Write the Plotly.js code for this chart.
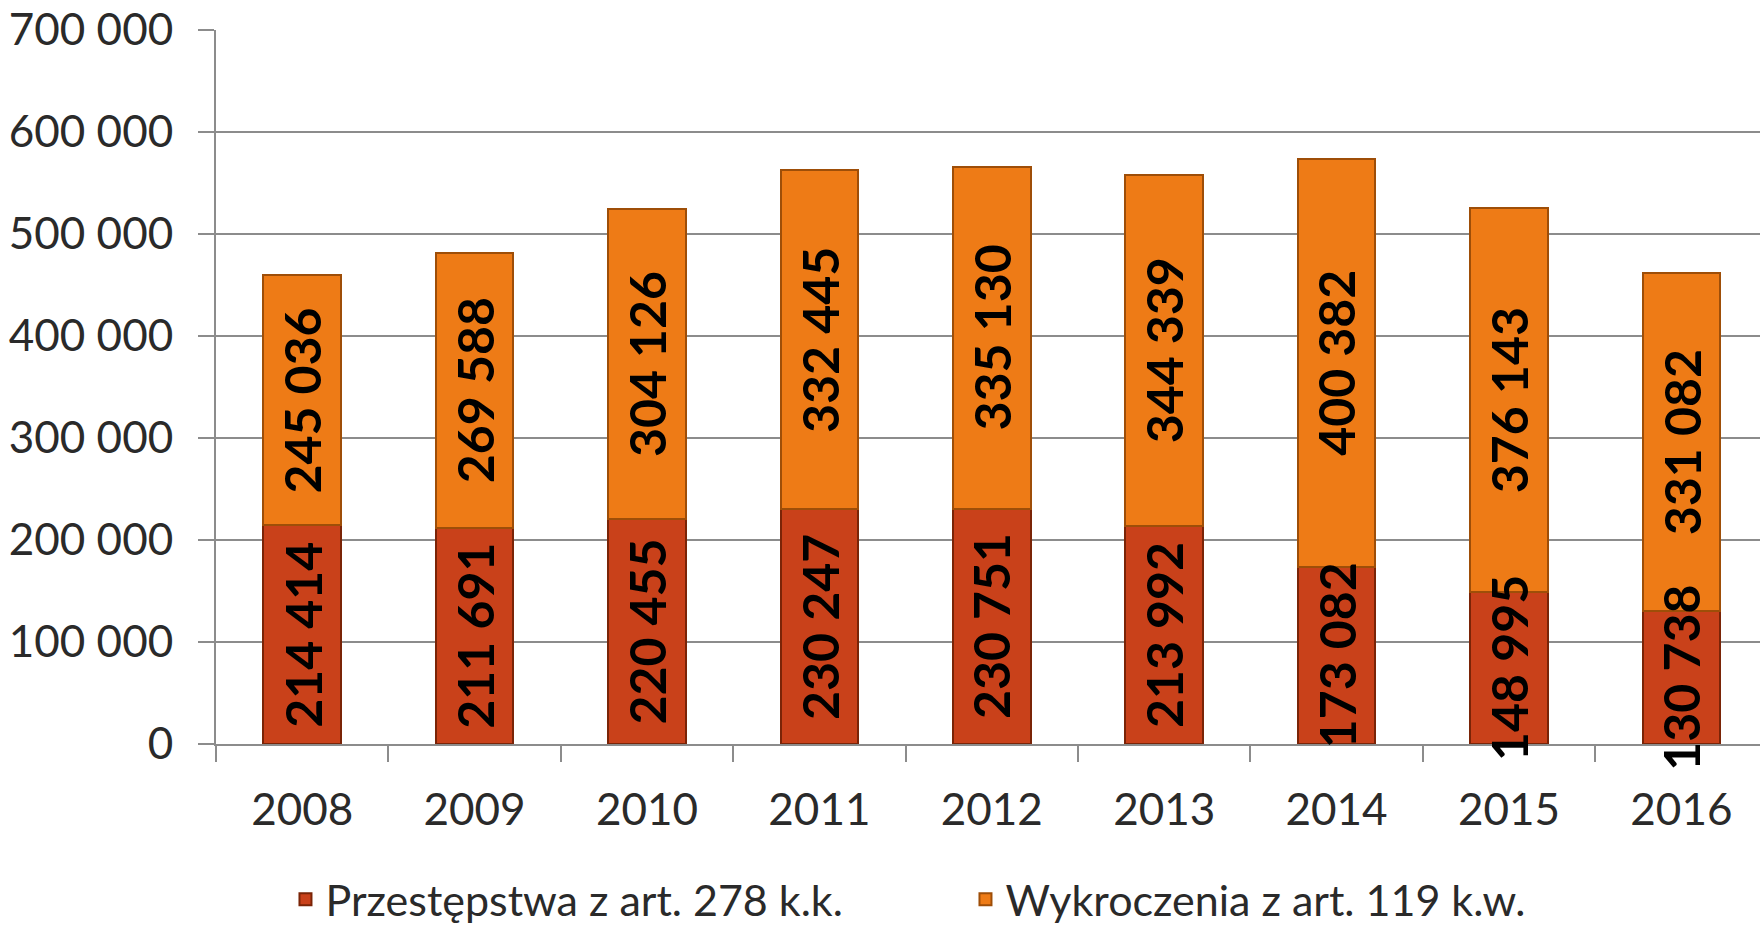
<!DOCTYPE html>
<html>
<head>
<meta charset="utf-8">
<script src="https://cdn.plot.ly/plotly-3.0.1.min.js"></script>
<style>html,body{margin:0;padding:0;background:#fff;}#chart{width:1760px;height:931px;}</style>
</head>
<body>
<div id="chart"></div>
<script>
const years = ['2008','2009','2010','2011','2012','2013','2014','2015','2016'];
const przestepstwa = [214414, 211691, 220455, 230247, 230751, 213992, 173082, 148995, 130738];
const wykroczenia = [245036, 269588, 304126, 332445, 335130, 344339, 400382, 376143, 331082];
const seriesNames = ['Przestępstwa z art. 278 k.k.', 'Wykroczenia z art. 119 k.w.'];
const yTicks = [0, 100000, 200000, 300000, 400000, 500000, 600000, 700000];

const FONT = 'Lato, "Noto Sans", sans-serif';
const labelFont = {family: FONT, size: 50, color: '#000', weight: 'bold'};

function fmt(v) {
  return String(v).replace(/\B(?=(\d{3})+(?!\d))/g, ' ');
}

const traces = [
  {
    type: 'bar', x: years, y: przestepstwa, width: 0.45,
    name: seriesNames[0], hoverinfo: 'skip',
    marker: {color: '#C9411A', line: {color: '#7A2407', width: 2}}
  },
  {
    type: 'bar', x: years, y: wykroczenia, width: 0.45,
    name: seriesNames[1], hoverinfo: 'skip',
    marker: {color: '#EE7B16', line: {color: '#9E4E08', width: 2}}
  }
];

// data labels centred in each stacked segment, drawn above all bars
const annotations = [];
years.forEach((yr, i) => {
  annotations.push({
    x: i, y: przestepstwa[i] / 2, xref: 'x', yref: 'y',
    text: fmt(przestepstwa[i]), showarrow: false, textangle: -90,
    font: labelFont
  });
  annotations.push({
    x: i, y: przestepstwa[i] + wykroczenia[i] / 2, xref: 'x', yref: 'y',
    text: fmt(wykroczenia[i]), showarrow: false, textangle: -90,
    font: labelFont
  });
});

const layout = {
  width: 1760,
  height: 931,
  margin: {l: 216, r: 0, t: 30, b: 187},
  paper_bgcolor: '#fff',
  plot_bgcolor: '#fff',
  barmode: 'stack',
  separators: ', ',
  font: {family: FONT, size: 44, color: '#2a2a2a'},
  showlegend: true,
  annotations: annotations,
  legend: {
    orientation: 'h',
    x: 0.045, xanchor: 'left',
    yref: 'container',
    y: 0.034, yanchor: 'middle',
    traceorder: 'normal',
    font: {family: FONT, size: 43, color: '#2a2a2a'},
    entrywidth: 635,
    itemwidth: 30
  },
  xaxis: {
    type: 'category',
    range: [-0.5, 8.456],
    showgrid: false,
    showline: true,
    linecolor: '#8c8c8c',
    linewidth: 2,
    ticks: 'outside',
    tickson: 'boundaries',
    ticklen: 16,
    tickwidth: 2,
    tickcolor: '#8c8c8c',
    ticklabelstandoff: 26,
    tickfont: {family: FONT, size: 44, color: '#2a2a2a'},
    zeroline: false
  },
  yaxis: {
    range: [0, 700000],
    tickvals: yTicks,
    tickformat: ',d',
    showgrid: true,
    gridcolor: '#8c8c8c',
    gridwidth: 2,
    showline: true,
    linecolor: '#8c8c8c',
    linewidth: 2,
    ticks: 'outside',
    ticklen: 16,
    tickwidth: 2,
    tickcolor: '#8c8c8c',
    ticklabelstandoff: 16,
    tickfont: {family: FONT, size: 44, color: '#2a2a2a'},
    zeroline: false
  }
};

Plotly.newPlot('chart', traces, layout, {displayModeBar: false, staticPlot: true});
</script>
</body>
</html>
